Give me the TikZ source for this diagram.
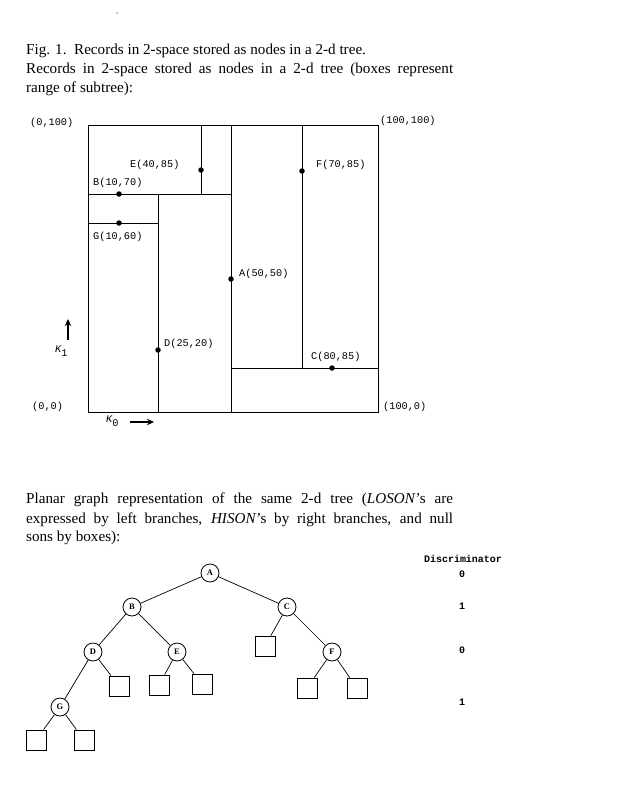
\documentclass[tikz,border=0pt]{standalone}
\usepackage{fontspec}
\setmainfont{Liberation Serif}
\newfontfamily\monof{Liberation Mono}
\usetikzlibrary{arrows.meta}
\begin{document}
\begin{tikzpicture}[x=1bp,y=-1bp,
  lbl/.style={anchor=west,inner sep=0,font=\monof\fontsize{10.3}{12}\selectfont},
  ln/.style={line width=1bp},
  pt/.style={circle,fill,inner sep=0,minimum size=5.5bp},
  tn/.style={circle,draw,line width=0.8bp,minimum size=18bp,inner sep=0,font=\fontsize{8.5}{10}\selectfont\bfseries},
  nb/.style={rectangle,draw,line width=0.8bp,minimum size=20bp,inner sep=0},
  te/.style={line width=0.7bp},
  captxt/.style={anchor=base west,inner sep=0,font=\fontsize{15.2}{18}\selectfont},
  disc/.style={inner sep=0,font=\monof\bfseries\fontsize{10}{11}\selectfont},
  axarrow/.style={line width=1.2bp,-{Stealth[length=7bp,width=6.5bp]}}]
\useasboundingbox (0,0) rectangle (619,810);
% speck
\fill (117,13) circle (0.7);
% captions
\node[captxt] (c1) at (26,55) {Fig. 1.\ \ Records in 2-space stored as nodes in a 2-d tree.};
\node[captxt] (c2) at (26,74) {\makebox[427bp][s]{Records in 2-space stored as nodes in a 2-d tree (boxes represent}};
\node[captxt] (c3) at (26,92) {range of subtree):};
% plane
\draw[ln] (88,125) rectangle (378,412);
\draw[ln] (201,125) -- (201,194);
\draw[ln] (88,194) -- (231,194);
\draw[ln] (231,125) -- (231,412);
\draw[ln] (302,125) -- (302,368);
\draw[ln] (231,368) -- (378,368);
\draw[ln] (88,223) -- (158,223);
\draw[ln] (158,194) -- (158,412);
\node[pt] (pE) at (201,170) {};
\node[pt] (pB) at (119,194) {};
\node[pt] (pG) at (119,223) {};
\node[pt] (pF) at (302,171) {};
\node[pt] (pA) at (231,279) {};
\node[pt] (pD) at (158,350) {};
\node[pt] (pC) at (332,368) {};
\node[lbl] (l00) at (30,123) {(0,100)};
\node[lbl] (l11) at (380,121) {(100,100)};
\node[lbl] (lE) at (130,165) {E(40,85)};
\node[lbl] (lB) at (93,183) {B(10,70)};
\node[lbl] (lG) at (93,237) {G(10,60)};
\node[lbl] (lF) at (316,165) {F(70,85)};
\node[lbl] (lA) at (239,274) {A(50,50)};
\node[lbl] (lD) at (164,344) {D(25,20)};
\node[lbl] (lC) at (311,357) {C(80,85)};
\node[lbl] (l0) at (32,407) {(0,0)};
\node[lbl] (l10) at (383,407) {(100,0)};
% axes
\node[lbl] (k1) at (55,351) {{\itshape K}\raisebox{-3.5bp}{1}};
\node[lbl] (k0) at (106,421) {{\itshape K}\raisebox{-3.5bp}{0}};
\coordinate (a1s) at (68,340);
\coordinate (a1e) at (68,319);
\coordinate (a0s) at (130,422);
\coordinate (a0e) at (154,422);
\draw[axarrow] (a1s) -- (a1e);
\draw[axarrow] (a0s) -- (a0e);
% second paragraph
\node[captxt] (p1) at (26,503) {\makebox[427bp][s]{Planar graph representation of the same 2-d tree (\textit{LOSON}'s are}};
\node[captxt] (p2) at (26,523) {\makebox[427bp][s]{expressed by left branches, \textit{HISON}'s by right branches, and null}};
\node[captxt] (p3) at (26,541) {sons by boxes):};
% tree
\node[tn] (A) at (210,573) {A};
\node[tn] (B) at (132,607) {B};
\node[tn] (C) at (287,607) {C};
\node[tn] (D) at (93,652) {D};
\node[tn] (E) at (177,652) {E};
\node[tn] (F) at (332,652) {F};
\node[tn] (G) at (60,707) {G};
\node[nb] (Cl) at (265,646) {};
\node[nb] (Dr) at (119,686) {};
\node[nb] (El) at (159,685) {};
\node[nb] (Er) at (202,684) {};
\node[nb] (Fl) at (307,688) {};
\node[nb] (Fr) at (357,688) {};
\node[nb] (Gl) at (36,740) {};
\node[nb] (Gr) at (84,740) {};
\draw[te] (A) -- (B);
\draw[te] (A) -- (C);
\draw[te] (B) -- (D);
\draw[te] (B) -- (E);
\draw[te] (C) -- (Cl);
\draw[te] (C) -- (F);
\draw[te] (D) -- (G);
\draw[te] (D) -- (Dr);
\draw[te] (E) -- (El);
\draw[te] (E) -- (Er);
\draw[te] (F) -- (Fl);
\draw[te] (F) -- (Fr);
\draw[te] (G) -- (Gl);
\draw[te] (G) -- (Gr);
% discriminator
\node[disc] (dh) at (463,559) {Discriminator};
\node[disc] (d0) at (462,574) {0};
\node[disc] (d1) at (462,606) {1};
\node[disc] (d2) at (462,650) {0};
\node[disc] (d3) at (462,702) {1};
\end{tikzpicture}
\end{document}
